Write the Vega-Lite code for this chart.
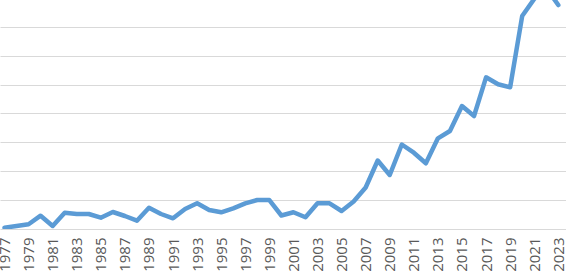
{
  "$schema": "https://vega.github.io/schema/vega-lite/v6.json",
  "width": 566,
  "height": 229,
  "autosize": {"type": "none"},
  "padding": {"left": 0, "top": 0, "right": 0, "bottom": 49},
  "background": "white",
  "config": {"view": {"stroke": null}},
  "data": {
    "values": [
      {"year": 1977, "value": 4.5},
      {"year": 1978, "value": 10.4},
      {"year": 1979, "value": 16.3},
      {"year": 1980, "value": 46},
      {"year": 1981, "value": 10.4},
      {"year": 1982, "value": 56.4},
      {"year": 1983, "value": 51.9},
      {"year": 1984, "value": 51.9},
      {"year": 1985, "value": 39.1},
      {"year": 1986, "value": 58.8},
      {"year": 1987, "value": 45},
      {"year": 1988, "value": 28.7},
      {"year": 1989, "value": 73.7},
      {"year": 1990, "value": 51.9},
      {"year": 1991, "value": 37},
      {"year": 1992, "value": 69.2},
      {"year": 1993, "value": 88.9},
      {"year": 1994, "value": 65.7},
      {"year": 1995, "value": 57.8},
      {"year": 1996, "value": 71.6},
      {"year": 1997, "value": 88.9},
      {"year": 1998, "value": 100.3},
      {"year": 1999, "value": 100.3},
      {"year": 2000, "value": 46.7},
      {"year": 2001, "value": 57.8},
      {"year": 2002, "value": 40.5},
      {"year": 2003, "value": 88.9},
      {"year": 2004, "value": 88.9},
      {"year": 2005, "value": 62.3},
      {"year": 2006, "value": 95},
      {"year": 2007, "value": 143.6},
      {"year": 2008, "value": 237},
      {"year": 2009, "value": 186.9},
      {"year": 2010, "value": 292.4},
      {"year": 2011, "value": 264},
      {"year": 2012, "value": 227.3},
      {"year": 2013, "value": 313.8},
      {"year": 2014, "value": 339.1},
      {"year": 2015, "value": 425.6},
      {"year": 2016, "value": 391},
      {"year": 2017, "value": 524.9},
      {"year": 2018, "value": 500.7},
      {"year": 2019, "value": 490.3},
      {"year": 2020, "value": 737},
      {"year": 2021, "value": 796},
      {"year": 2022, "value": 834},
      {"year": 2023, "value": 775}
    ]
  },
  "mark": {"type": "line", "color": "#5b9bd5", "strokeWidth": 4.5, "strokeJoin": "round", "strokeCap": "round", "clip": true},
  "encoding": {
    "x": {
      "field": "year",
      "type": "quantitative",
      "scale": {"domain": [1976.626, 2023.64], "nice": false, "zero": false},
      "axis": {
        "values": [1977, 1979, 1981, 1983, 1985, 1987, 1989, 1991, 1993, 1995, 1997, 1999, 2001, 2003, 2005, 2007, 2009, 2011, 2013, 2015, 2017, 2019, 2021, 2023],
        "format": "d",
        "labelAngle": -90,
        "labelAlign": "right",
        "labelBaseline": "middle",
        "labelPadding": 8,
        "labelFont": "Open Sans",
        "labelFontSize": 15,
        "labelColor": "#595959",
        "labelOverlap": false,
        "labelFlush": false,
        "ticks": false,
        "domain": false,
        "grid": false,
        "title": null
      }
    },
    "y": {
      "field": "value",
      "type": "quantitative",
      "scale": {"domain": [0, 792.4], "nice": false},
      "axis": {
        "values": [0, 100, 200, 300, 400, 500, 600, 700],
        "labels": false,
        "ticks": false,
        "domain": false,
        "grid": true,
        "gridColor": "#d9d9d9",
        "gridWidth": 1,
        "title": null
      }
    }
  }
}
